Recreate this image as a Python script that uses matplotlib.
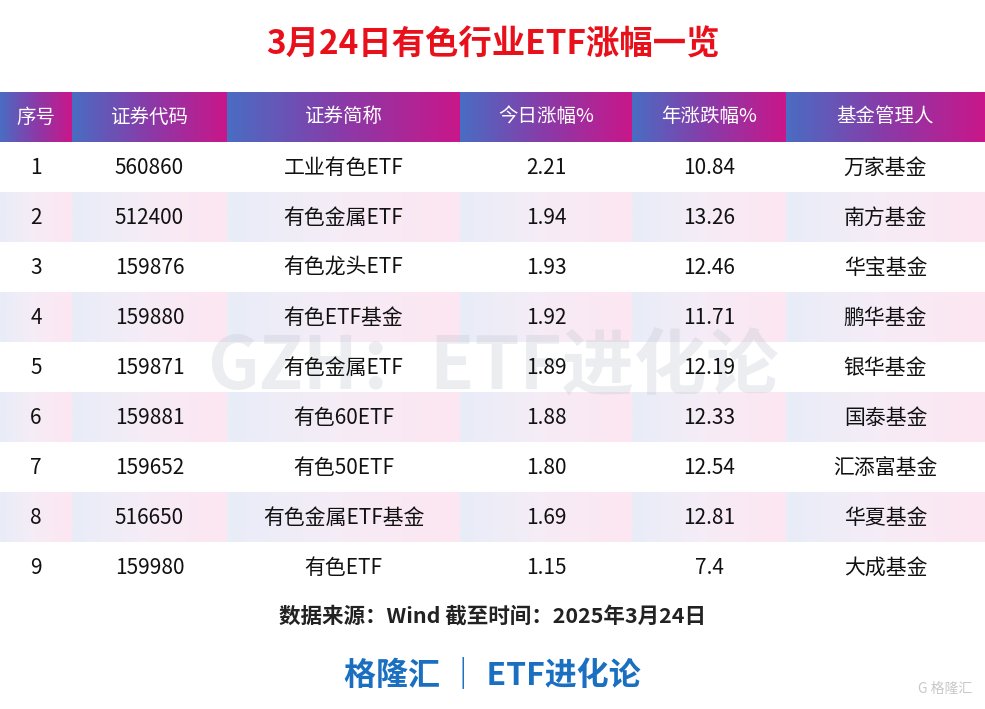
import numpy as np
import matplotlib
matplotlib.use("Agg")
import matplotlib.pyplot as plt
from matplotlib.colors import LinearSegmentedColormap

plt.rcParams["font.family"] = ["Noto Sans CJK SC", "DejaVu Sans"]

title = "3月24日有色行业ETF涨幅一览"
headers = ["序号", "证券代码", "证券简称", "今日涨幅%", "年涨跌幅%", "基金管理人"]
seq = ["1", "2", "3", "4", "5", "6", "7", "8", "9"]
codes = ["560860", "512400", "159876", "159880", "159871", "159881", "159652", "516650", "159980"]
names = ["工业有色ETF", "有色金属ETF", "有色龙头ETF", "有色ETF基金", "有色金属ETF",
         "有色60ETF", "有色50ETF", "有色金属ETF基金", "有色ETF"]
today = ["2.21", "1.94", "1.93", "1.92", "1.89", "1.88", "1.80", "1.69", "1.15"]
year = ["10.84", "13.26", "12.46", "11.71", "12.19", "12.33", "12.54", "12.81", "7.4"]
managers = ["万家基金", "南方基金", "华宝基金", "鹏华基金", "银华基金", "国泰基金",
            "汇添富基金", "华夏基金", "大成基金"]

W, H = 985, 709
col_edges = [0, 72, 227, 460, 632, 786, 985]
head_top, row_h = 92, 50

fig = plt.figure(figsize=(W / 100, H / 100), dpi=100)
ax = fig.add_axes([0, 0, 1, 1])
ax.set_xlim(0, W)
ax.set_ylim(H, 0)
ax.axis("off")

head_cmap = LinearSegmentedColormap.from_list("h", ["#4a6cc2", "#8a3aa8", "#c8178a"])
row_cmap = LinearSegmentedColormap.from_list("r", ["#e8edf8", "#f6ecf6", "#fce6f1"])
grad = np.linspace(0, 1, 64).reshape(1, -1)

ax.text(W / 2, 45, title, ha="center", va="center", fontsize=24, color="#e8101a", fontweight="bold")

for i in range(len(headers)):
    x0, x1 = col_edges[i], col_edges[i + 1]
    ax.imshow(grad, cmap=head_cmap, extent=[x0, x1, head_top + row_h, head_top], aspect="auto")
    ax.text((x0 + x1) / 2, head_top + row_h / 2, headers[i], ha="center", va="center",
            fontsize=14, color="white", fontweight="medium")

# faint watermark behind the body text
ax.text(W / 2, 368, "GZH：ETF进化论", ha="center", va="center", fontsize=52,
        color="#c8ccd4", alpha=0.35, fontweight="bold", zorder=1)

rows = list(zip(seq, codes, names, today, year, managers))
for r, row in enumerate(rows):
    y0 = head_top + row_h * (r + 1)
    if r % 2 == 1:
        for i in range(len(headers)):
            x0, x1 = col_edges[i], col_edges[i + 1]
            ax.imshow(grad, cmap=row_cmap, extent=[x0, x1, y0 + row_h, y0], aspect="auto", zorder=0)
    for i, val in enumerate(row):
        ax.text((col_edges[i] + col_edges[i + 1]) / 2, y0 + row_h / 2 + 1, val,
                ha="center", va="center", fontsize=15, color="#111111",
                fontweight="medium", zorder=2)

ax.text(W / 2, 616, "数据来源：Wind 截至时间：2025年3月24日", ha="center", va="center",
        fontsize=15.5, color="#222222", fontweight="bold")
ax.text(W / 2, 675, "格隆汇 ｜ ETF进化论", ha="center", va="center",
        fontsize=23, color="#1a6fc0", fontweight="bold")
ax.text(945, 689, "G 格隆汇", ha="center", va="center", fontsize=10, color="#c8c8c8")

fig.savefig("out.png", dpi=100)
